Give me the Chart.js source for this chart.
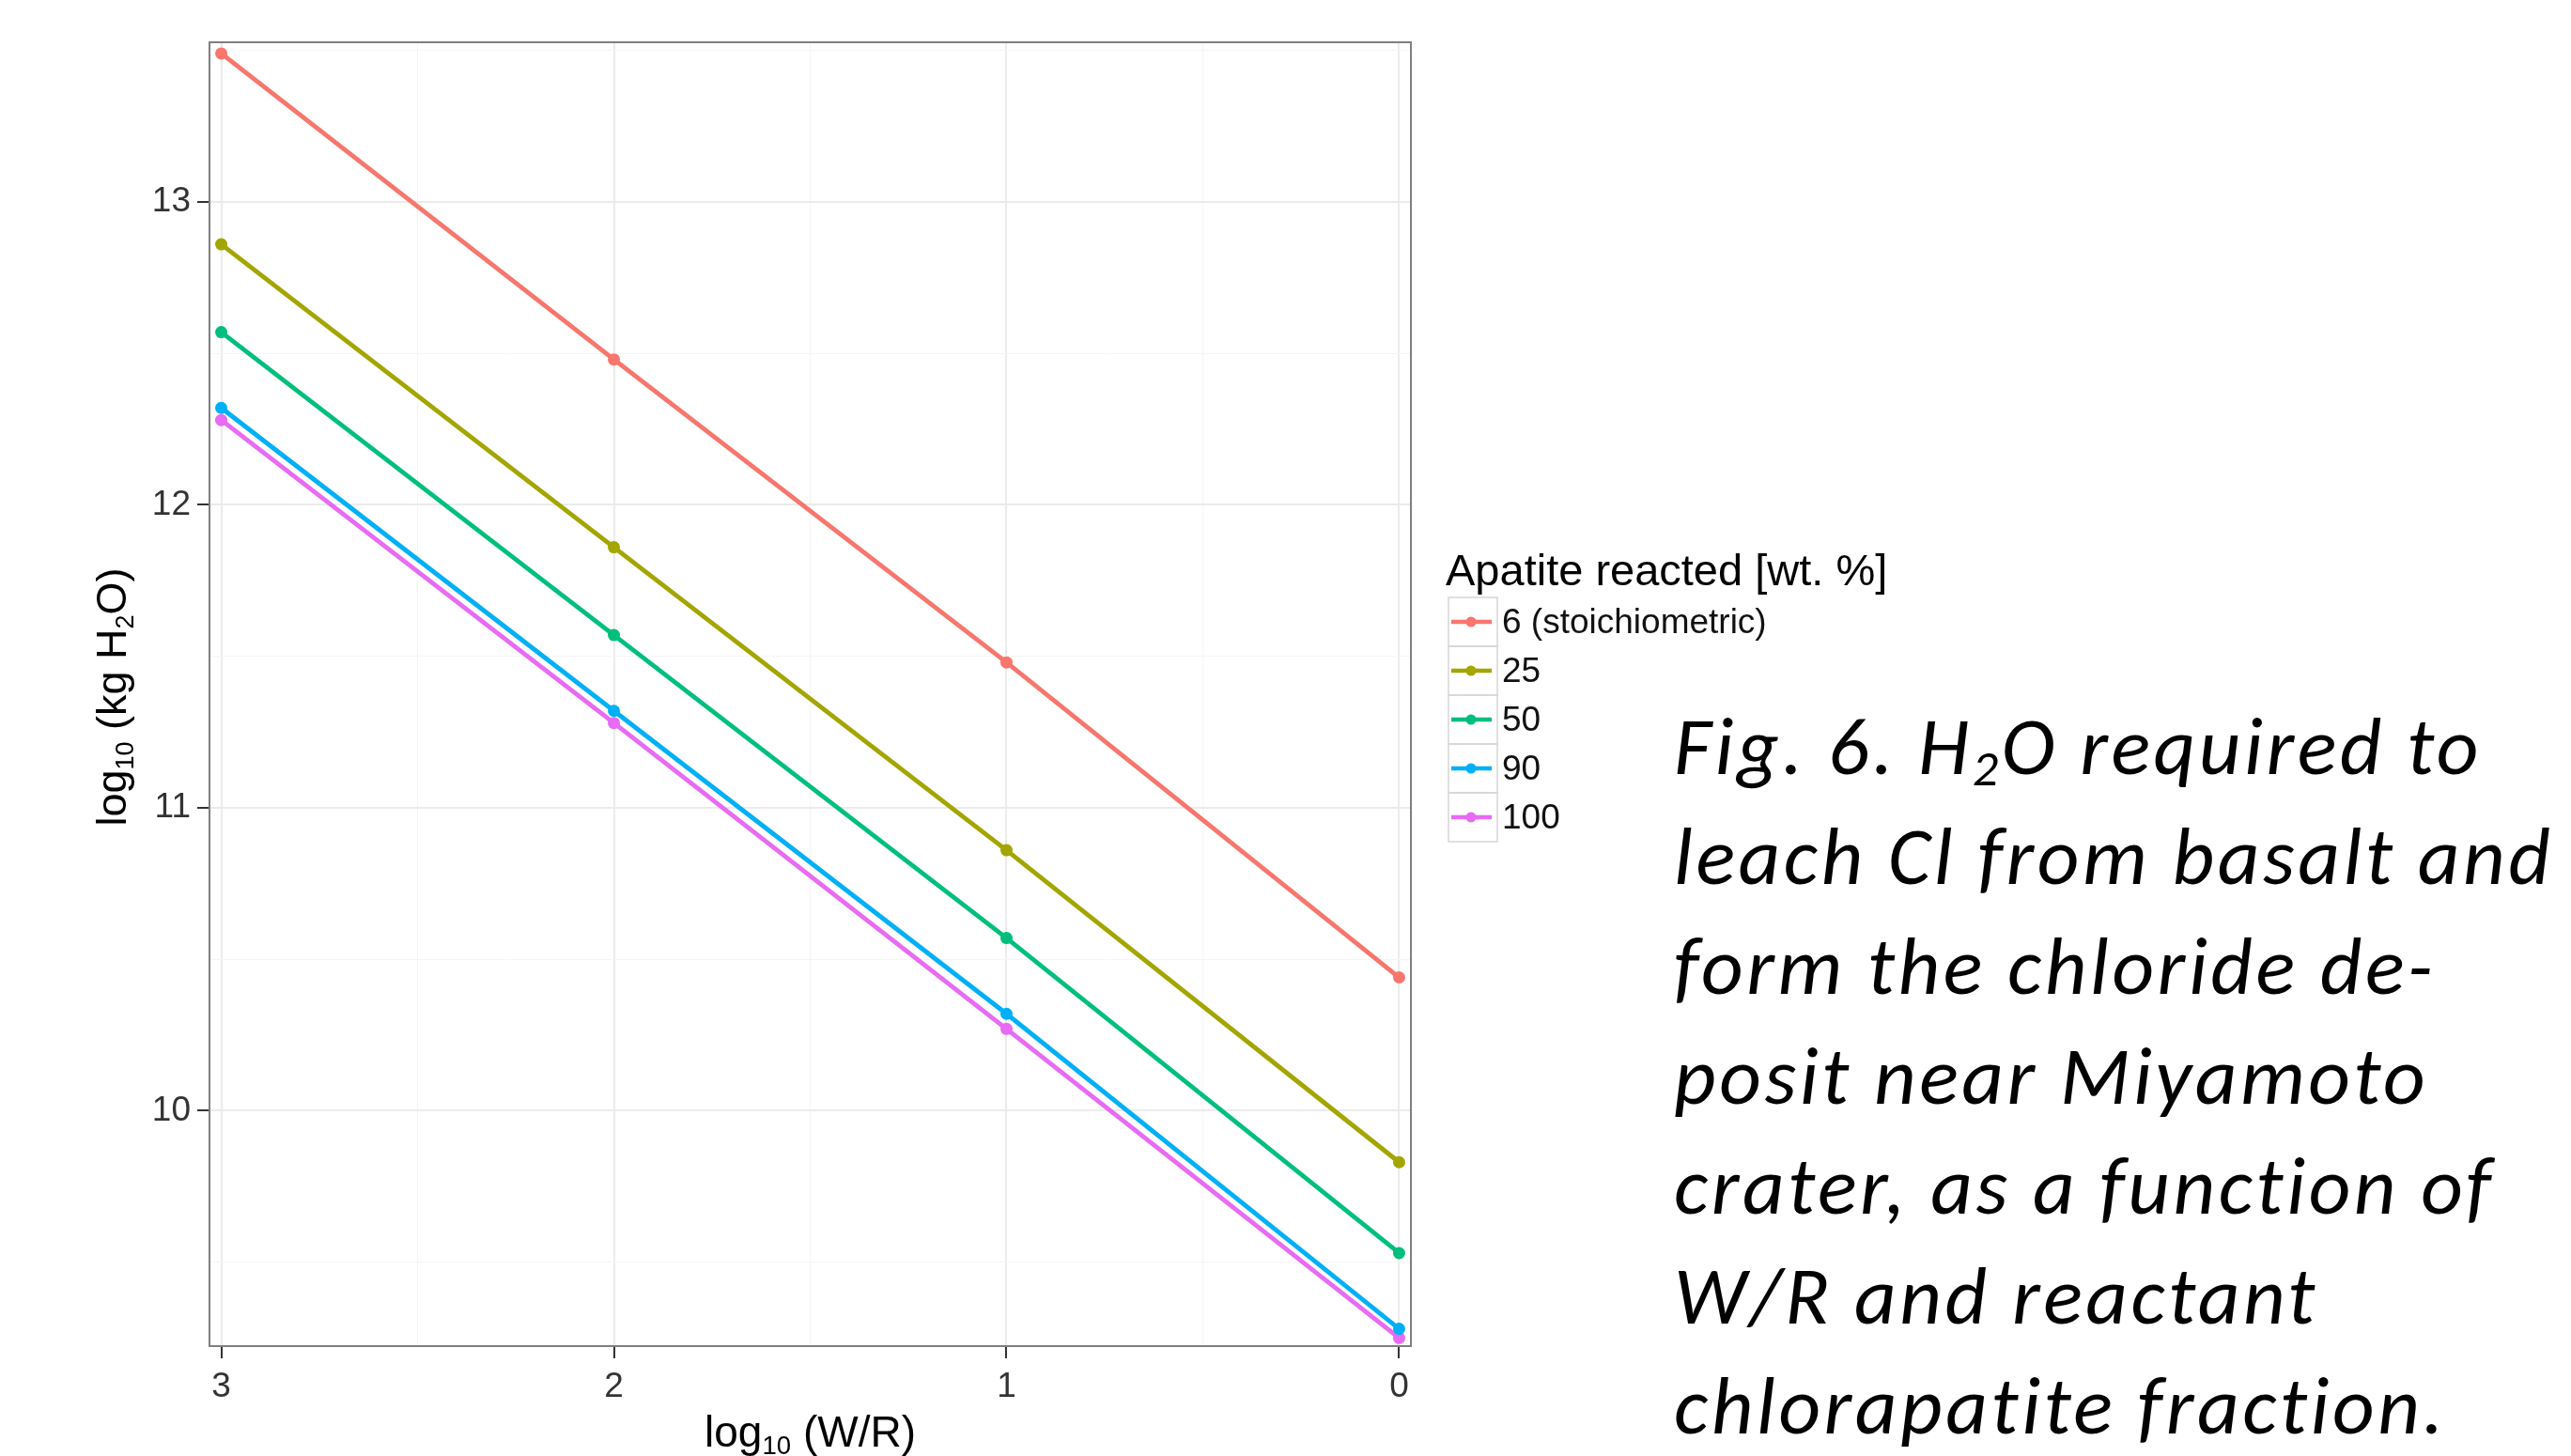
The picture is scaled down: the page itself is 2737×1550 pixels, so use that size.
<!DOCTYPE html>
<html>
<head>
<meta charset="utf-8">
<title>H2O required to leach Cl</title>
<script src="https://cdn.jsdelivr.net/npm/chart.js@4.4.1/dist/chart.umd.min.js"></script>
<style>
  html, body { margin: 0; padding: 0; background: #fff; overflow: hidden; }
  #wrap { position: relative; width: 2737px; height: 1550px; }
  #chartBox { position: absolute; left: 0; top: 0; width: 2737px; height: 1550px; }
  #caption {
    position: absolute;
    left: 1782px;
    top: 736px;
    font-family: Carlito, Calibri, Lato, sans-serif;
    font-style: italic;
    font-size: 87px;
    letter-spacing: 3.5px;
    line-height: 117px;
    color: #000;
    white-space: nowrap;
  }
  #caption sub { font-size: 0.62em; vertical-align: baseline; position: relative; top: 0.22em; line-height: 0; }
</style>
</head>
<body>
<div id="wrap">
  <div id="chartBox"><canvas id="waterChart"></canvas></div>
  <div id="caption">Fig. 6. H<sub>2</sub>O required to<br>leach Cl from basalt and<br>form the chloride de-<br>posit near Miyamoto<br>crater, as a function of<br>W/R and reactant<br>chlorapatite fraction.</div>
</div>
<script>
// --- data ---
const logWR = [3, 2, 1, 0];
const apatite6 = [13.49, 12.48, 11.48, 10.44];
const apatite25 = [12.86, 11.86, 10.86, 9.83];
const apatite50 = [12.57, 11.57, 10.57, 9.53];
const apatite90 = [12.32, 11.32, 10.32, 9.28];
const apatite100 = [12.28, 11.28, 10.27, 9.25];
const seriesLabels = ['6 (stoichiometric)', '25', '50', '90', '100'];
const seriesColors = ['#F8766D', '#A3A500', '#00BF7D', '#00B0F6', '#E76BF3'];
const xTicks = [0, 0.5, 1, 1.5, 2, 2.5, 3];
const yTicks = [9.5, 10, 10.5, 11, 11.5, 12, 12.5, 13, 13.5];
const legendTitle = 'Apatite reacted [wt. %]';
// axis titles, split so the subscripts can be drawn smaller and lower
const xTitleParts = [{ t: 'log' }, { t: '10', sub: true }, { t: ' (W/R)' }];
const yTitleParts = [{ t: 'log' }, { t: '10', sub: true }, { t: ' (kg H' }, { t: '2', sub: true }, { t: 'O)' }];

const FONT = '"Liberation Sans", Arial, sans-serif';
const isMajor = v => Number.isInteger(v);

// draws a centred text run with subscripts at (x, y) baseline
function drawRich(ctx, parts, size, x, y, rotate) {
    const subSize = size * 0.6;
    ctx.save();
    ctx.translate(x, y);
    if (rotate) ctx.rotate(-Math.PI / 2);
    ctx.textAlign = 'left';
    ctx.textBaseline = 'alphabetic';
    ctx.fillStyle = '#000';
    let total = 0;
    const widths = parts.map(p => {
        ctx.font = (p.sub ? subSize : size) + 'px ' + FONT;
        const w = ctx.measureText(p.t).width;
        total += w;
        return w;
    });
    let cx = -total / 2;
    parts.forEach((p, i) => {
        ctx.font = (p.sub ? subSize : size) + 'px ' + FONT;
        ctx.fillText(p.t, cx, p.sub ? size * 0.17 : 0);
        cx += widths[i];
    });
    ctx.restore();
}

// --- panel border + axis titles ---
const panelFrame = {
    id: 'panelFrame',
    afterDraw(chart) {
        const { ctx, chartArea: a } = chart;
        ctx.save();
        ctx.strokeStyle = '#7f7f7f';
        ctx.lineWidth = 2;
        ctx.strokeRect(a.left, a.top, a.right - a.left, a.bottom - a.top);
        ctx.restore();
        drawRich(ctx, xTitleParts, 46, (a.left + a.right) / 2, 1540, false);
        drawRich(ctx, yTitleParts, 45, 134, (a.top + a.bottom) / 2 + 3, true);
    }
};

// --- legend to the right of the panel ---
const sideLegend = {
    id: 'sideLegend',
    afterDraw(chart) {
        const { ctx, chartArea: a } = chart;
        const left = a.right + 40;
        const top = 636;
        const key = 52;
        ctx.save();
        ctx.fillStyle = '#000';
        ctx.textAlign = 'left';
        ctx.textBaseline = 'alphabetic';
        ctx.font = '47px ' + FONT;
        ctx.fillText(legendTitle, left - 3, 623);

        chart.data.datasets.forEach((ds, i) => {
            const y = top + i * key;
            ctx.strokeStyle = '#d6d6d6';
            ctx.lineWidth = 1.5;
            ctx.strokeRect(left, y, key, key);
            ctx.strokeStyle = ds.borderColor;
            ctx.lineWidth = 4.5;
            ctx.beginPath();
            ctx.moveTo(left + 3, y + key / 2);
            ctx.lineTo(left + key - 6, y + key / 2);
            ctx.stroke();
            ctx.fillStyle = ds.borderColor;
            ctx.beginPath();
            ctx.arc(left + key / 2 - 2, y + key / 2, 5.5, 0, Math.PI * 2);
            ctx.fill();
            ctx.fillStyle = '#111';
            ctx.font = '37px ' + FONT;
            ctx.textBaseline = 'middle';
            ctx.fillText(ds.label, left + key + 5, y + key / 2 + 2);
            ctx.textBaseline = 'alphabetic';
        });
        ctx.restore();
    }
};

const seriesValues = [apatite6, apatite25, apatite50, apatite90, apatite100];

const datasets = seriesValues.map((vals, i) => ({
    label: seriesLabels[i],
    data: logWR.map((x, j) => ({ x: x, y: vals[j] })),
    borderColor: seriesColors[i],
    backgroundColor: seriesColors[i],
    pointBackgroundColor: seriesColors[i],
    pointBorderWidth: 0,
    pointRadius: 6.5,
    borderWidth: 4.8,
    tension: 0,
    fill: false
}));

const ctx = document.getElementById('waterChart');

new Chart(ctx, {
    type: 'line',
    data: { datasets: datasets },
    plugins: [panelFrame, sideLegend],
    options: {
        responsive: true,
        maintainAspectRatio: false,
        animation: false,
        layout: {
            padding: { left: 0, top: 45, right: 1235, bottom: 0 }
        },
        plugins: {
            legend: { display: false },
            tooltip: { enabled: false }
        },
        scales: {
            x: {
                type: 'linear',
                reverse: true,
                min: -0.03,
                max: 3.03,
                afterBuildTicks: scale => { scale.ticks = xTicks.map(v => ({ value: v })); },
                afterFit: scale => { scale.height = 117; },
                border: { display: false },
                grid: {
                    color: c => isMajor(c.tick.value) ? '#ebebeb' : '#f5f5f5',
                    lineWidth: c => isMajor(c.tick.value) ? 2 : 1,
                    tickColor: c => isMajor(c.tick.value) ? '#333' : 'rgba(0,0,0,0)',
                    tickWidth: 2,
                    tickLength: 13
                },
                ticks: {
                    autoSkip: false,
                    maxRotation: 0,
                    padding: 9,
                    color: '#333',
                    font: { family: FONT, size: 37 },
                    callback: v => isMajor(v) ? String(v) : ''
                }
            },
            y: {
                type: 'linear',
                min: 9.223,
                max: 13.527,
                afterBuildTicks: scale => { scale.ticks = yTicks.map(v => ({ value: v })); },
                afterFit: scale => { scale.width = 223; },
                border: { display: false },
                grid: {
                    color: c => isMajor(c.tick.value) ? '#ebebeb' : '#f5f5f5',
                    lineWidth: c => isMajor(c.tick.value) ? 2 : 1,
                    tickColor: c => isMajor(c.tick.value) ? '#333' : 'rgba(0,0,0,0)',
                    tickWidth: 2,
                    tickLength: 13
                },
                ticks: {
                    autoSkip: false,
                    padding: 7,
                    color: '#333',
                    font: { family: FONT, size: 37 },
                    callback: v => isMajor(v) ? String(v) : ''
                }
            }
        }
    }
});
</script>
</body>
</html>
